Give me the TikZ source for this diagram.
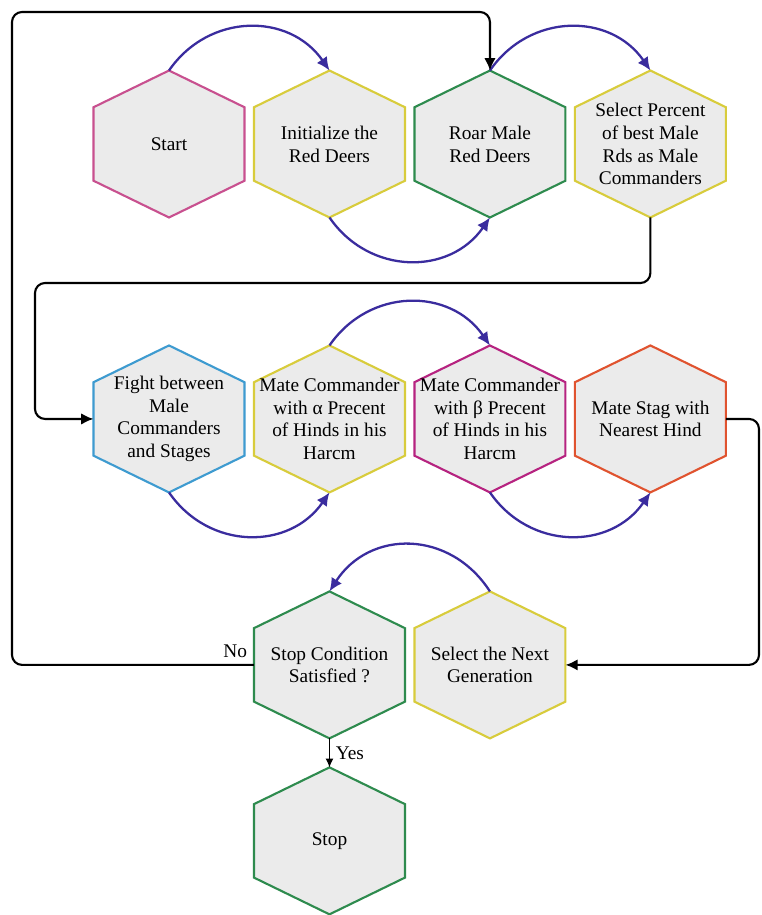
\documentclass[tikz,border=0pt]{standalone}
\usepackage{fontspec}
\setmainfont{Liberation Serif}
\usetikzlibrary{arrows.meta,positioning,calc,backgrounds}

\definecolor{hexfill}{HTML}{EBEBEB}
\definecolor{hexpink}{HTML}{C8508F}
\definecolor{hexyellow}{HTML}{D8CC3C}
\definecolor{hexgreen}{HTML}{2E8B4E}
\definecolor{hexblue}{HTML}{3E9BD0}
\definecolor{hexmagenta}{HTML}{B62380}
\definecolor{hexred}{HTML}{E0532F}
\definecolor{arrowblue}{HTML}{3A2C9E}

\begin{document}
\begin{tikzpicture}[
			x=0.02cm, y=-0.02cm,
			>=Latex,
			node distance=0.19cm,
			hexbox/.style={
				minimum width=3.02cm,
				minimum height=2.94cm,
				inner sep=0pt,
				outer sep=0pt,
				align=center,
				font=\fontsize{11}{13}\selectfont
			},
			hexline/.style={
				line width=1.2pt,
				fill=hexfill
			},
			curvearrow/.style={
				line width=1.3pt,
				draw=arrowblue,
				-{Latex[length=7.5pt,width=7pt]}
			},
			loopline/.style={
				line width=1.2pt,
				rounded corners=0.2cm,
				-{Latex[length=7pt,width=6.5pt]}
			}
			]
			
			\useasboundingbox (0,0) rectangle (761,915);
			
			% First row
			\node[hexbox] (start) at (169,144) {Start};
			\node[hexbox,right=of start] (init) {Initialize the\\Red Deers};
			\node[hexbox,right=of init] (roar) {Roar Male\\Red Deers};
			\node[hexbox,right=of roar] (sel) {Select Percent\\of best Male\\Rds as Male\\Commanders};
			
			% Second row
			\node[hexbox,below=2.56cm of start] (fight) {Fight between\\Male\\Commanders\\and Stages};
			\node[hexbox,right=of fight] (matea) {Mate Commander\\with α Precent\\of Hinds in his\\Harcm};
			\node[hexbox,right=of matea] (mateb) {Mate Commander\\with β Precent\\of Hinds in his\\Harcm};
			\node[hexbox,right=of mateb] (stag) {Mate Stag with\\Nearest Hind};
			
			% Third row
			\node[hexbox,below=1.98cm of matea] (stopc) {Stop Condition\\Satisfied ?};
			\node[hexbox,right=of stopc] (next) {Select the Next\\Generation};
			\node[hexbox,below=0.58cm of stopc] (stop) {Stop};
			
			% Canvas and hexagons
			\begin{scope}[on background layer]
				\fill[white] (0,0) rectangle (761,915);
				\foreach \n/\c in {start/hexpink, init/hexyellow, roar/hexgreen, sel/hexyellow,
					fight/hexblue, matea/hexyellow, mateb/hexmagenta, stag/hexred,
					next/hexyellow, stopc/hexgreen, stop/hexgreen}
				\draw[hexline,draw=\c] (\n.north)
				-- ($(\n.north east)!0.25!(\n.south east)$)
				-- ($(\n.north east)!0.75!(\n.south east)$)
				-- (\n.south)
				-- ($(\n.north west)!0.75!(\n.south west)$)
				-- ($(\n.north west)!0.25!(\n.south west)$)
				-- cycle;
			\end{scope}
			
			% Curved arrows
			\draw[curvearrow] (start.north) .. controls +(40,-58) and +(-40,-58) .. (init.north);
			\draw[curvearrow] (init.south) .. controls +(40,58) and +(-40,58) .. (roar.south);
			\draw[curvearrow] (roar.north) .. controls +(40,-58) and +(-40,-58) .. (sel.north);
			\draw[curvearrow] (fight.south) .. controls +(40,58) and +(-40,58) .. (matea.south);
			\draw[curvearrow] (matea.north) .. controls +(40,-58) and +(-40,-58) .. (mateb.north);
			\draw[curvearrow] (mateb.south) .. controls +(40,58) and +(-40,58) .. (stag.south);
			\draw[curvearrow] (next.north) .. controls +(-40,-62) and +(40,-62) .. (stopc.north);
			
			% Loop lines
			\coordinate (topleft) at (12,12);
			\coordinate (midleft) at (35,283);
			\coordinate (rightside) at (759,540);
			\draw[loopline] (stopc.west) node[above left,font=\fontsize{11}{13}\selectfont] {No}
			-| (topleft) -| (roar.north);
			\draw[loopline] (sel.south) |- (midleft) |- (fight.west);
			\draw[loopline] (stag.east) -| (rightside) |- (next.east);
			
			% Exit
			\draw[line width=0.6pt,-{Latex[length=5pt,width=4.5pt]}] (stopc.south) --
			node[right,font=\fontsize{11}{13}\selectfont] {Yes} (stop.north);
			
		\end{tikzpicture}
\end{document}
